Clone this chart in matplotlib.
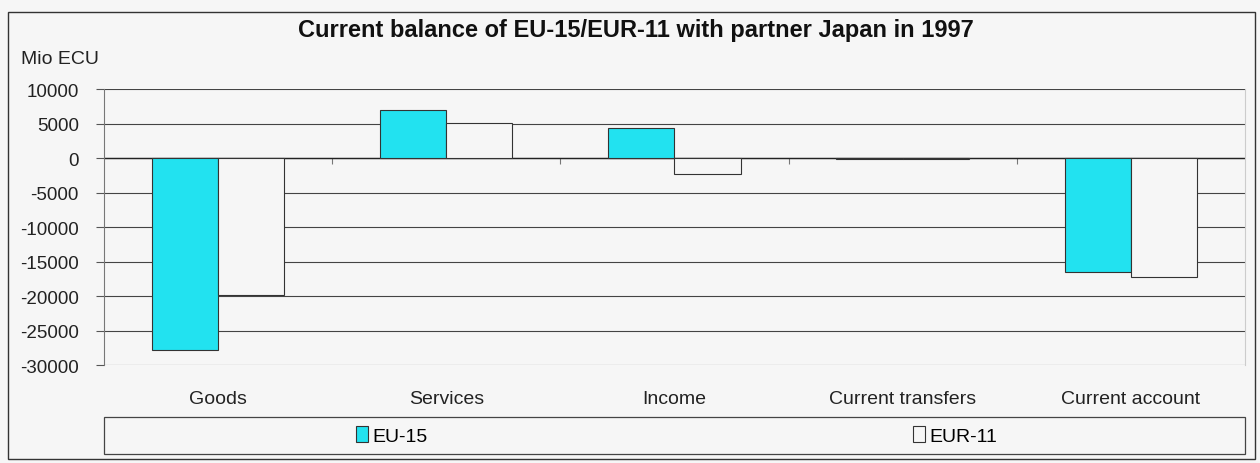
import matplotlib.pyplot as plt
import numpy as np
from matplotlib.patches import Rectangle

plt.rcParams['font.family'] = ['Liberation Sans', 'DejaVu Sans']

categories = ['Goods', 'Services', 'Income', 'Current transfers', 'Current account']
eu15 = [-27800, 6900, 4350, -150, -16500]
eur11 = [-19900, 5050, -2250, -100, -17200]
yticks = [10000, 5000, 0, -5000, -10000, -15000, -20000, -25000, -30000]

bg = '#f6f6f6'
cyan = '#22e2f0'

fig = plt.figure(figsize=(12.6, 4.64), dpi=100, facecolor=bg)
ax = fig.add_axes([0.0825, 0.211, 0.9055, 0.595], facecolor=bg)

x = np.arange(len(categories))
w = 0.29
ax.bar(x - w / 2, eu15, w, color=cyan, edgecolor='#333333', linewidth=0.8, label='EU-15', zorder=3)
ax.bar(x + w / 2, eur11, w, color=bg, edgecolor='#333333', linewidth=0.8, label='EUR-11', zorder=3)

ax.set_xlim(-0.5, len(categories) - 0.5)
ax.set_ylim(-30000, 10000)
ax.set_yticks(yticks)
ax.set_yticklabels([str(v) for v in yticks], fontsize=13.5, color='#222222')
ax.set_xticks(x)
ax.set_xticklabels(categories, fontsize=14, color='#222222')
ax.tick_params(axis='x', length=0, pad=18)
ax.tick_params(axis='y', length=6, width=0.8, color='#555555', pad=12)

ax.grid(axis='y', color='#444444', linewidth=0.8, zorder=0)
for s in ['top', 'bottom']:
    ax.spines[s].set_visible(False)
ax.spines['left'].set_color('#777777')
ax.spines['right'].set_color('#cccccc')
ax.axhline(0, color='#222222', linewidth=1.0, zorder=2)

# small category separators on the zero line
sec = ax.secondary_xaxis(0, transform=ax.transData)
sec.set_xticks(x[:-1] + 0.5)
sec.set_xticklabels([])
sec.tick_params(direction='out', length=4, width=0.8, color='#777777')
sec.spines['bottom'].set_visible(False)

fig.text(0.505, 0.935, 'Current balance of EU-15/EUR-11 with partner Japan in 1997',
         ha='center', va='center', fontsize=17, fontweight='bold', color='#111111')
fig.text(0.017, 0.872, 'Mio ECU', ha='left', va='center', fontsize=14, color='#222222')

# legend box under the plot
fig.patches.append(Rectangle((0.0825, 0.019), 0.9055, 0.08, transform=fig.transFigure,
                             facecolor=bg, edgecolor='#444444', linewidth=0.9))
fig.legend(loc='center', bbox_to_anchor=(0.537, 0.059), ncol=2, frameon=False,
           fontsize=14, handlelength=0.6, handleheight=0.9, handletextpad=0.2,
           columnspacing=25)

# outer frame
fig.patches.append(Rectangle((0.006, 0.008), 0.99, 0.965, transform=fig.transFigure,
                             facecolor='none', edgecolor='#333333', linewidth=1.0))

fig.savefig('out.png', dpi=100, facecolor=bg)
